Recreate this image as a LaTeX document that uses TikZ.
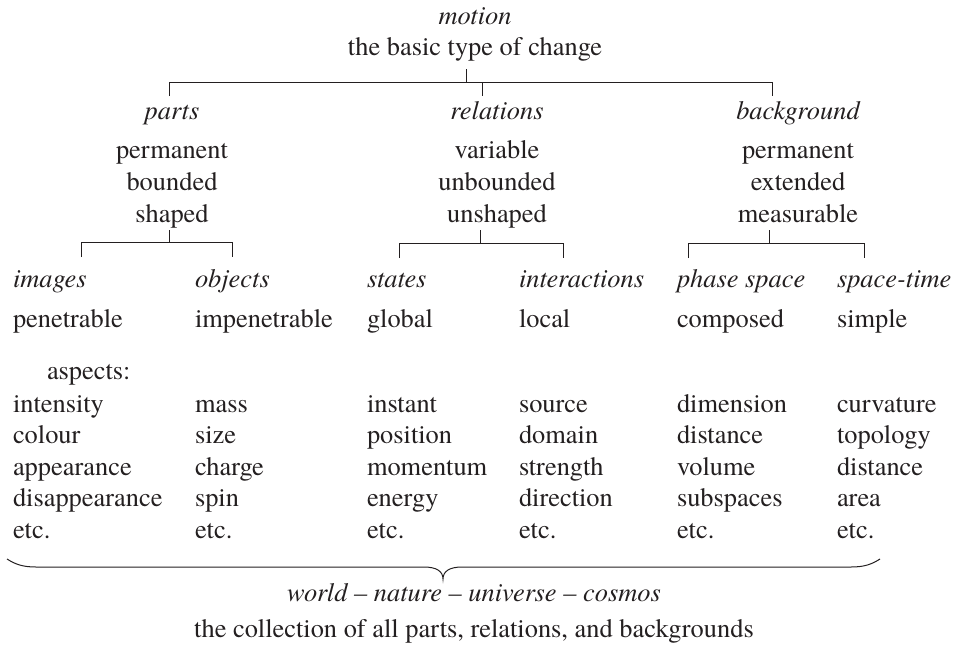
\documentclass[tikz,border=0pt]{standalone}
\usepackage{fontspec}
\setmainfont{texgyretermes}[Extension=.otf,UprightFont=*-regular,ItalicFont=*-italic,BoldFont=*-bold,BoldItalicFont=*-bolditalic]
\definecolor{ink}{RGB}{35,31,32}
\begin{document}
\begin{tikzpicture}[x=0.5pt,y=-0.5pt,
  txt/.style={inner sep=0pt,outer sep=0pt,text=ink,font=\fontsize{13.2}{15.8}\selectfont},
  ctr/.style={txt,anchor=base},
  lft/.style={txt,anchor=base west},
  head/.style={font=\fontsize{13.2}{15.8}\selectfont\itshape},
  tree/.style={draw=ink,line width=0.5pt},
  bracestyle/.style={draw=ink,line width=0.5pt}]
\useasboundingbox (0,0) rectangle (958,654);
% top
\node[ctr,head] (motion) at (475,24) {motion};
\node[ctr] (change) at (475,55) {the basic type of change};
% second level
\node[ctr,head] (parts) at (172,119) {parts};
\node[ctr] (p1) at (172,158) {permanent};
\node[ctr] (p2) at (172,190) {bounded};
\node[ctr] (p3) at (172,222) {shaped};
\node[ctr,head] (relations) at (497,119) {relations};
\node[ctr] (r1) at (497,158) {variable};
\node[ctr] (r2) at (497,190) {unbounded};
\node[ctr] (r3) at (497,222) {unshaped};
\node[ctr,head] (background) at (798,119) {background};
\node[ctr] (b1) at (798,158) {permanent};
\node[ctr] (b2) at (798,190) {extended};
\node[ctr] (b3) at (798,222) {measurable};
% tree coordinates
\coordinate (t0) at (466,69);
\coordinate (t1) at (466,82);
\coordinate (tl) at (169,82);
\coordinate (tm) at (482,82);
\coordinate (tr) at (772,82);
\coordinate (tlb) at (169,96);
\coordinate (tmb) at (482,96);
\coordinate (trb) at (772,96);
\draw[tree] (t0) -- (t1);
\draw[tree] (tlb) -- (tl) -- (tr) -- (trb);
\draw[tree] (tm) -- (tmb);
% parts subtree
\coordinate (pa) at (169,230);
\coordinate (pb) at (169,242);
\coordinate (pl) at (81,242);
\coordinate (pr) at (232,242);
\coordinate (plb) at (81,257);
\coordinate (prb) at (232,257);
\draw[tree] (pa) -- (pb);
\draw[tree] (plb) -- (pl) -- (pr) -- (prb);
% relations subtree
\coordinate (ra) at (480,230);
\coordinate (rb) at (480,243);
\coordinate (rl) at (399,243);
\coordinate (rr) at (563,243);
\coordinate (rlb) at (399,258);
\coordinate (rrb) at (563,258);
\draw[tree] (ra) -- (rb);
\draw[tree] (rlb) -- (rl) -- (rr) -- (rrb);
% background subtree
\coordinate (ba) at (769,230);
\coordinate (bb) at (769,243);
\coordinate (bl) at (688,243);
\coordinate (br) at (864,243);
\coordinate (blb) at (688,258);
\coordinate (brb) at (864,258);
\draw[tree] (ba) -- (bb);
\draw[tree] (blb) -- (bl) -- (br) -- (brb);
% third level
\foreach \x/\h/\p [count=\i] in {13/images/penetrable,195/objects/impenetrable,367/states/global,519/interactions/local,677/phase space/composed,837/space-time/simple}{
  \node[lft,head] (h\i) at (\x,287) {\h};
  \node[lft] (q\i) at (\x,327) {\p};
}
\node[lft] (aspects) at (47,379) {aspects:};
% aspect lists
\foreach \x/\a/\b/\c/\d [count=\i] in {13/intensity/colour/appearance/disappearance,195/mass/size/charge/spin,367/instant/position/momentum/energy,519/source/domain/strength/direction,677/dimension/distance/volume/subspaces,837/curvature/topology/distance/area}{
  \node[lft] (l\i-1) at (\x,412) {\a};
  \node[lft] (l\i-2) at (\x,443.5) {\b};
  \node[lft] (l\i-3) at (\x,475) {\c};
  \node[lft] (l\i-4) at (\x,506.5) {\d};
  \node[lft] (l\i-5) at (\x,538) {etc.};
}
% brace
\coordinate (bL) at (7,559);
\coordinate (bT) at (443,579);
\coordinate (bR) at (880,559);
\draw[bracestyle] (bL) .. controls (15,564) and (22,567) .. (36,567) -- (424,567)
  .. controls (436,567) and (443,571) .. (bT)
  .. controls (443,571) and (450,567) .. (462,567) -- (851,567)
  .. controls (865,567) and (872,564) .. (bR);
% bottom texts
\node[ctr,head] (world) at (474,601) {world -- nature -- universe -- cosmos};
\node[ctr] (collection) at (474,637) {the collection of all parts, relations, and backgrounds};
\end{tikzpicture}
\end{document}
